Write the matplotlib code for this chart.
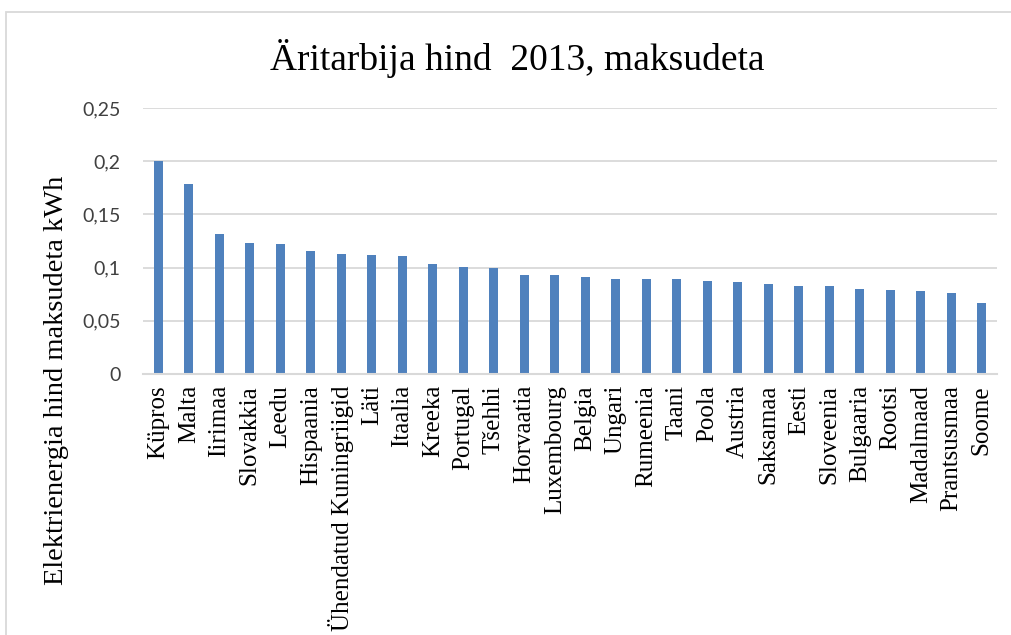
import matplotlib.pyplot as plt
from matplotlib.patches import Rectangle

riigid = ["Küpros", "Malta", "Iirimaa", "Slovakkia", "Leedu", "Hispaania",
          "Ühendatud Kuningriigid", "Läti", "Itaalia", "Kreeka", "Portugal",
          "Tšehhi", "Horvaatia", "Luxembourg", "Belgia", "Ungari", "Rumeenia",
          "Taani", "Poola", "Austria", "Saksamaa", "Eesti", "Sloveenia",
          "Bulgaaria", "Rootsi", "Madalmaad", "Prantsusmaa", "Soome"]
hind = [0.200, 0.179, 0.132, 0.123, 0.122, 0.116, 0.113, 0.112, 0.111,
        0.103, 0.101, 0.100, 0.093, 0.093, 0.091, 0.089, 0.089, 0.089,
        0.087, 0.086, 0.085, 0.083, 0.083, 0.080, 0.079, 0.078, 0.076, 0.067]
y_ticks = [0, 0.05, 0.1, 0.15, 0.2, 0.25]
y_labels = ["0", "0,05", "0,1", "0,15", "0,2", "0,25"]

W, H = 1011, 635
fig = plt.figure(figsize=(W / 100, H / 100), dpi=100)

# outer chart frame
fig.patches.append(Rectangle((6 / W, -0.1), 1.1, (H - 12) / H + 0.1,
                             transform=fig.transFigure, fill=False,
                             edgecolor="#d9d9d9", linewidth=1.3))

ax = fig.add_axes([143 / W, (H - 374) / H, (997 - 143) / W, (374 - 108) / H])
x = range(len(riigid))
ax.bar(x, hind, width=0.31, color="#4f81bd", zorder=3)

ax.set_xlim(-0.5, len(riigid) - 0.5)
ax.set_ylim(0, 0.25)
ax.set_yticks(y_ticks)
ax.set_yticklabels(y_labels, fontfamily="Lato", fontsize=14, color="#404040")
ax.set_xticks(list(x))
ax.set_xticklabels(riigid, rotation=90, fontfamily="Liberation Serif",
                   fontsize=18, va="top", ha="center")
ax.tick_params(axis="both", length=0)
ax.tick_params(axis="y", pad=16)
ax.tick_params(axis="x", pad=8)

ax.grid(axis="y", color="#d9d9d9", linewidth=1.3, zorder=0)
for s in ["top", "right", "left"]:
    ax.spines[s].set_visible(False)
ax.spines["bottom"].set_color("#d9d9d9")
ax.spines["bottom"].set_linewidth(1.5)
ax.spines["bottom"].set_zorder(4)

fig.text(517 / W, 1 - 58 / H, "Äritarbija hind  2013, maksudeta",
         fontfamily="Liberation Serif", fontsize=27, ha="center", va="center")
fig.text(57 / W, 1 - 380 / H, "Elektrienergia hind maksudeta kWh",
         fontfamily="Liberation Serif", fontsize=20.5, rotation=90,
         ha="center", va="center")

fig.savefig("out.png", dpi=100)
